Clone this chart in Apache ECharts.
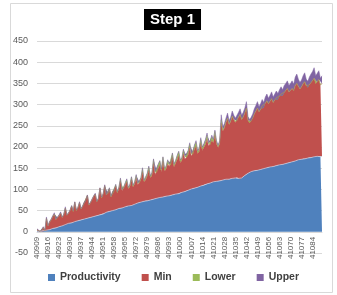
<!DOCTYPE html>
<html><head><meta charset="utf-8">
<script src="https://cdn.jsdelivr.net/npm/echarts@6/dist/echarts.min.js"></script>
<style>html,body{margin:0;padding:0;background:#fff}#c{width:337px;height:295px}</style>
</head><body><div id="c"></div>
<script>
var firstDay = 40909, lastDay = 41090;
var categories = [];
for (var d = firstDay; d <= lastDay; d++) categories.push(String(d));
var seriesNames = ['Productivity', 'Min', 'Lower', 'Upper'];
var productivity = [
2,1,1,1,3,2,4,4,5,6,
8,9,9,10,12,13,14,15,17,18,
20,21,21,22,24,25,26,27,28,29,
30,31,32,33,34,35,36,37,38,39,
40,42,42,44,46,47,48,49,50,51,
52,53,55,56,56,57,59,60,61,61,
62,63,65,66,68,69,70,71,72,73,
73,74,75,76,77,78,79,80,81,81,
82,83,84,84,85,86,87,88,89,89,
90,92,93,94,95,97,98,99,101,102,
103,104,105,106,108,109,110,112,113,114,
115,116,118,118,119,120,120,121,122,123,
124,123,124,125,126,125,127,128,126,124,
127,130,133,136,138,140,142,143,144,145,
145,146,147,148,149,150,151,152,153,153,
154,155,156,157,158,158,159,160,161,162,
163,164,165,166,167,168,170,170,171,172,
172,173,174,175,175,176,177,177,178,178,
177,178];
var minVals = [
3,1,0,1,7,1,28,10,18,22,
28,33,20,23,26,31,20,25,39,21,
24,29,40,26,46,25,31,42,26,31,
39,42,54,30,35,41,48,52,33,39,
63,38,47,65,41,41,52,33,42,44,
55,38,46,63,41,44,51,57,40,45,
61,42,48,60,43,45,52,69,45,50,
58,70,52,57,84,57,59,70,76,60,
84,60,64,76,69,71,88,65,72,81,
89,71,75,89,76,77,84,98,77,79,
91,97,79,83,100,83,89,94,105,88,
90,99,92,109,88,79,87,135,115,122,
134,144,129,135,146,139,131,133,144,152,
137,141,147,156,125,117,119,125,134,140,
147,137,142,149,144,153,158,150,155,161,
151,156,160,155,162,167,162,169,172,176,
167,170,173,167,178,182,173,167,171,177,
182,171,166,172,177,180,185,173,175,181,
169,172];
var lowerVals = [
0,0,0,0,0,0,0,0,0,0,
0,0,0,0,0,0,0,0,0,0,
0,0,0,0,0,0,0,0,0,0,
0,0,0,0,0,0,0,0,0,0,
0,0,0,0,0,2,3,1,2,3,
4,2,3,6,2,3,4,6,3,4,
6,3,4,7,3,4,5,9,4,5,
6,9,4,5,10,5,6,8,10,5,
10,5,6,8,5,6,10,5,6,8,
10,5,6,10,6,6,8,10,5,6,
8,10,5,6,10,5,6,8,10,5,
6,9,5,10,4,3,4,8,3,2,
1,1,1,1,1,1,1,1,1,1,
1,0,0,0,0,0,0,0,0,0,
0,0,0,0,0,0,0,0,0,0,
0,0,0,0,0,0,0,0,0,0,
0,0,0,0,0,0,0,0,0,0,
0,0,0,0,0,0,0,0,0,0,
0,0];
var upperVals = [
2,1,0,0,2,1,3,1,2,2,
2,3,1,2,2,3,1,2,3,1,
1,2,1,2,1,2,1,2,1,2,
1,2,1,2,1,2,1,2,1,2,
1,2,1,2,1,2,1,2,1,2,
1,2,1,2,1,2,1,2,1,2,
1,2,1,2,1,2,1,2,1,2,
1,2,1,2,1,2,1,2,1,2,
1,2,1,2,1,2,1,2,1,2,
1,2,1,2,1,2,2,3,2,3,
3,4,3,3,4,3,3,4,5,3,
4,4,3,3,4,3,4,12,8,8,
9,12,8,9,12,10,9,10,11,13,
10,11,12,15,9,8,9,10,12,13,
15,12,13,15,12,15,16,13,14,16,
13,14,16,14,15,17,14,16,17,18,
15,16,18,15,20,22,17,15,16,19,
21,16,15,18,20,22,25,18,19,21,
16,18];
var yTicks = {min: -50, max: 450, interval: 50};
var colors = ['#4F81BD', '#C0504D', '#9BBB59', '#8064A2'];
var allValues = [productivity, minVals, lowerVals, upperVals];

var chart = echarts.init(document.getElementById('c'), null, {renderer: 'canvas'});
var series = seriesNames.map(function (n, k) {
  return {
    name: n, type: 'line', stack: 'total', data: allValues[k],
    symbol: 'none', showSymbol: false, sampling: null,
    lineStyle: k === 0 ? {width: 0.7, color: '#c5d3e8'} : {width: 0.5, color: colors[k]},
    areaStyle: {color: colors[k], opacity: 1},
    itemStyle: {color: colors[k]},
    emphasis: {disabled: true}, animation: false
  };
});
var plotHeight = 295 - 41 - 42;
var zeroOffset = -plotHeight * (0 - yTicks.min) / (yTicks.max - yTicks.min);
chart.setOption({
  animation: false,
  backgroundColor: '#fff',
  title: {
    text: 'Step 1', left: 144, top: 9,
    backgroundColor: '#000', padding: [3, 6, 3, 6],
    textStyle: {color: '#fff', fontSize: 15, fontWeight: 'bold', fontFamily: 'Liberation Sans'}
  },
  graphic: [{
    type: 'rect', shape: {x: 10.5, y: 3.5, width: 322, height: 289},
    style: {fill: null, stroke: '#D9D9D9', lineWidth: 1}, z: -1, silent: true
  }],
  legend: {
    data: seriesNames, left: 43, top: 267,
    itemWidth: 7, itemHeight: 7, itemGap: 21, icon: 'rect',
    textStyle: {fontSize: 10.5, fontWeight: 'bold', color: '#404040', fontFamily: 'Liberation Sans'}
  },
  grid: {left: 37, right: 15, top: 41, bottom: 42, containLabel: false},
  xAxis: {
    type: 'category', data: categories, boundaryGap: false,
    offset: zeroOffset,
    axisLine: {onZero: false, lineStyle: {color: '#D9D9D9'}},
    axisTick: {show: false},
    axisLabel: {interval: 6, rotate: 90, fontSize: 8, color: '#595959', margin: 5, fontFamily: 'Liberation Sans'},
    splitLine: {show: false}
  },
  yAxis: {
    type: 'value', min: yTicks.min, max: yTicks.max, interval: yTicks.interval,
    axisLine: {show: false}, axisTick: {show: false},
    axisLabel: {fontSize: 9, color: '#595959', margin: 9, fontFamily: 'Liberation Sans'},
    splitLine: {lineStyle: {color: '#D9D9D9', width: 1}}
  },
  series: series
});
</script></body></html>
